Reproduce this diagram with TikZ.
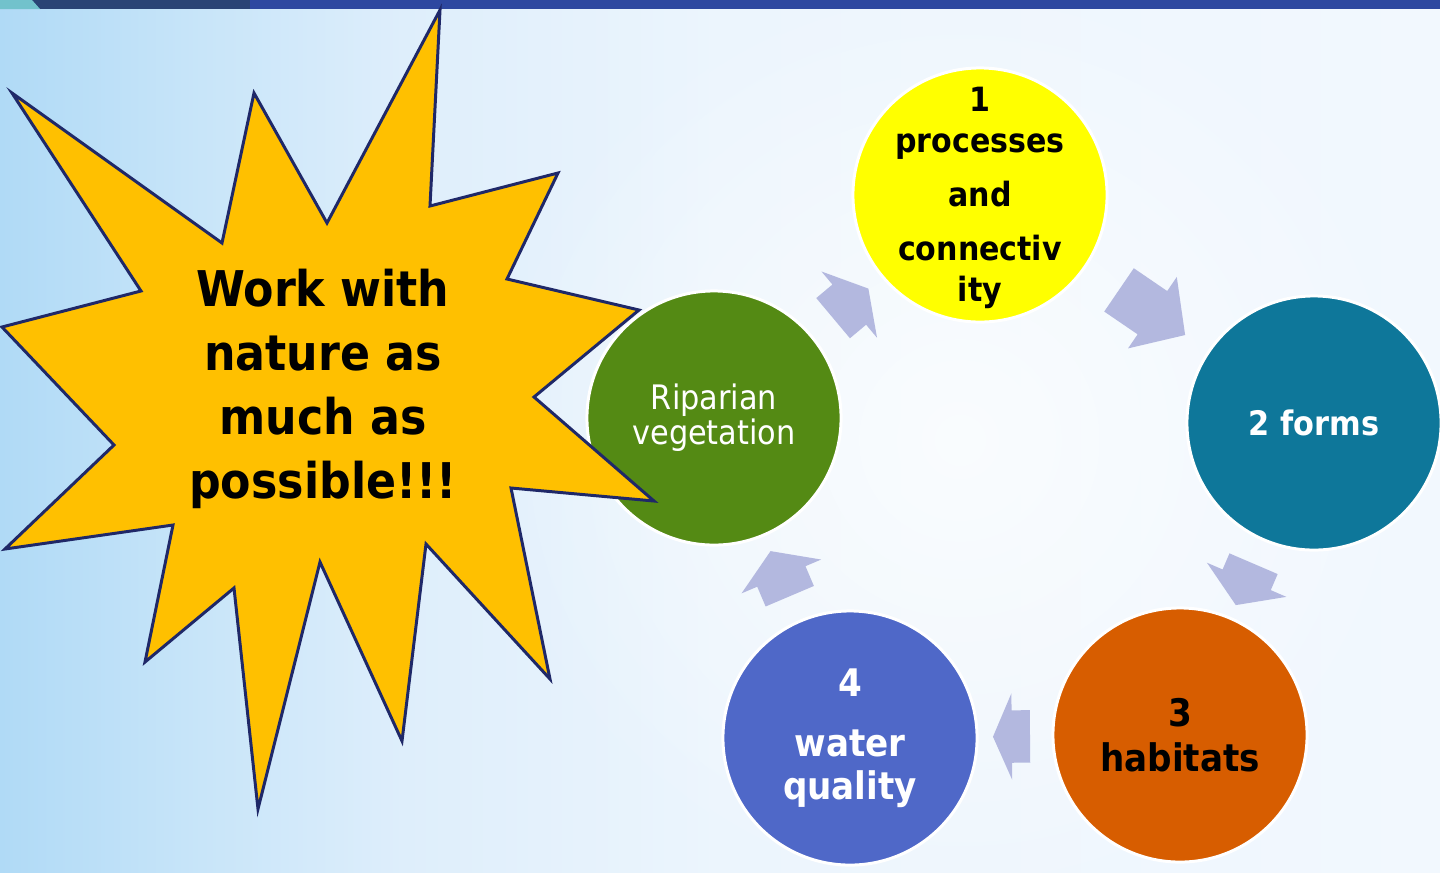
\documentclass[tikz,border=0pt]{standalone}
\usepackage{fontspec}
\setmainfont{DejaVu Sans Condensed}
\usetikzlibrary{shapes.arrows, fadings}
\definecolor{BarD}  {HTML}{2A4475}
\definecolor{BarB}  {HTML}{2E48A0}
\definecolor{BarT}  {HTML}{72C2CC}
\definecolor{BgL}   {HTML}{B0DAF6}
\definecolor{BgA}   {HTML}{C8E5F9}
\definecolor{BgM}   {HTML}{DEEEFB}
\definecolor{BgW}   {HTML}{ECF5FD}
\definecolor{BgR}   {HTML}{F2F8FE}
\definecolor{StarF} {HTML}{FFC000}
\definecolor{StarD} {HTML}{1F2868}
\definecolor{Yell}  {HTML}{FFFF00}
\definecolor{Teal}  {HTML}{0E779A}
\definecolor{Orng}  {HTML}{D75D00}
\definecolor{Blu}   {HTML}{4F68C8}
\definecolor{Grn}   {HTML}{548A14}
\definecolor{ArrF}  {HTML}{B3B8DF}
\tikzfading[name=glow, inner color=transparent!0, outer color=transparent!100]
\pgfdeclarehorizontalshading{bgsh}{100bp}{color(0bp)=(BgL); color(25bp)=(BgL);
  color(32bp)=(BgA); color(39bp)=(BgM); color(50bp)=(BgW); color(75bp)=(BgR); color(100bp)=(BgR)}
\tikzset{
  bub/.style args={#1/#2}{
    circle, draw=white, fill=#1, text=#2,
    line width=0.85pt, minimum size=2.54cm, inner sep=0pt,
    align=center,
  },
  btxt/.style={
    align=center, inner sep=0pt,
  },
  cyc/.style={
    single arrow, fill=ArrF, draw=none, inner xsep=0pt, inner ysep=0.255cm,
    minimum width=0.85cm, single arrow head extend=0.17cm,
    single arrow tip angle=115, sloped, allow upside down,
  },
  burst/.style={
    draw=StarD, fill=StarF, line width=0.85pt, line join=miter,
  },
}

\begin{document}
\begin{tikzpicture}[x=0.01cm,y=-0.01cm]
  \useasboundingbox (0,0) rectangle (1440,872);
  % backdrop
  \shade[shading=bgsh] (0,0) rectangle (1440,872);
  \fill[white, path fading=glow, opacity=0.7] (960,440) circle (4.8cm);
  \fill[BarB] (0,0) rectangle (1440,9);
  \fill[BarD] (0,0) rectangle (250,9);
  \fill[BarT] (0,0) -- (32,0) -- (40,9) -- (0,9) -- cycle;

  % cycle
  \node[bub=Yell/black, label={[btxt, text=black, yshift=-0.03cm, font=\bfseries\fontsize{9.5}{11.6}\selectfont]center:{1\\processes\\[3.8pt]and\\[3.8pt]connectiv\\ity}}] (proc) at (980,195) {};
  \node[bub=Teal/white, font=\bfseries\fontsize{9.6}{11.5}\selectfont] (form) at (1314,423) {2 forms};
  \node[bub=Orng/black, font=\bfseries\fontsize{10.8}{12.8}\selectfont] (habt) at (1180,735) {3\\habitats};
  \node[bub=Blu/white, font=\bfseries\fontsize{10.8}{12.2}\selectfont] (watq) at (850,738) {4\\[4.9pt]water\\quality};
  \node[bub=Grn/white, font=\fontsize{9.6}{10}\selectfont] (ripv) at (714,418) {Riparian\\vegetation};

  \path (ripv) -- node[cyc, pos=0.47, minimum height=0.46cm, single arrow tip angle=120] (a1) {} (proc);
  \path (proc) -- node[cyc, pos=0.46, minimum height=0.80cm, single arrow tip angle=95] (a2) {} (form);
  \path (form) -- node[cyc, pos=0.47, minimum height=0.45cm] (a3) {} (habt);
  \path (habt) -- node[cyc, pos=0.47, minimum height=0.37cm, single arrow tip angle=133] (a4) {} (watq);
  \path (watq) -- node[cyc, pos=0.46, minimum height=0.49cm] (a5) {} (ripv);

  % star
  \draw[burst] (440,10) -- (430,206) -- (558,173) -- (507,279) -- (639,310) -- (534,397)
    -- (654,501) -- (511,488) -- (550,679) -- (426,544) -- (402,741) -- (320,562)
    -- (258,809) -- (234,588) -- (145,662) -- (173,525) -- (5,549) -- (114,445)
    -- (2,327) -- (141,291) -- (12,93) -- (222,243) -- (254,93) -- (327,223) -- cycle;
  \node[btxt, font=\bfseries\fontsize{14}{18.2}\selectfont] (wk) at (323,389) {Work with\\nature as\\much as\\possible!!!};
\end{tikzpicture}
\end{document}
